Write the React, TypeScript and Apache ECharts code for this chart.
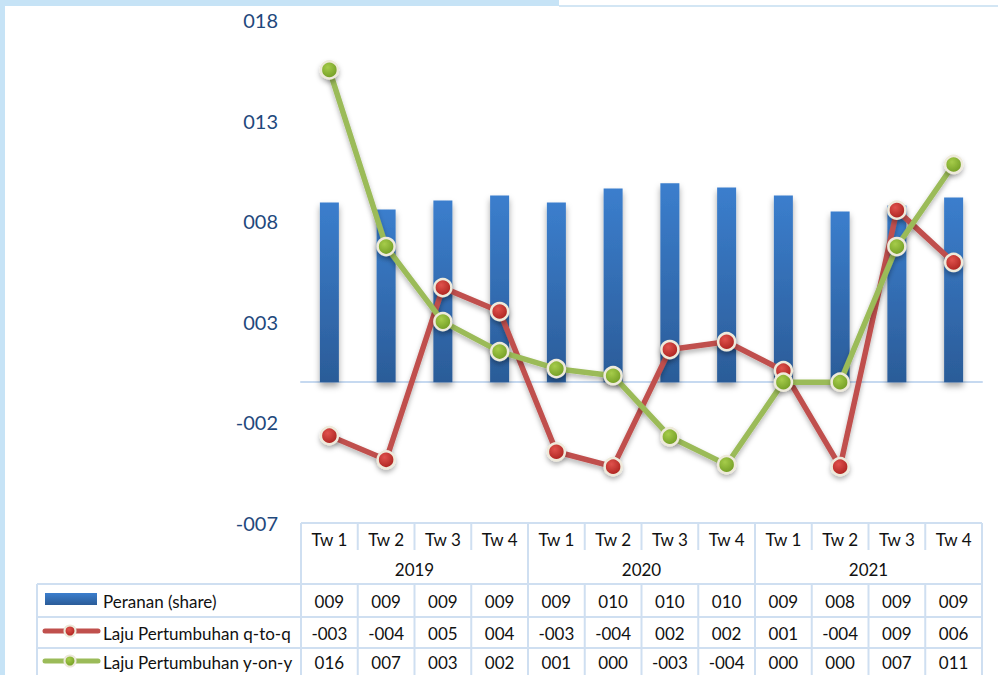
import React, { useEffect, useRef } from "react";
import * as echarts from "echarts";

// ---- data ----
const quarters = ["Tw 1", "Tw 2", "Tw 3", "Tw 4", "Tw 1", "Tw 2", "Tw 3", "Tw 4", "Tw 1", "Tw 2", "Tw 3", "Tw 4"];
const years = ["2019", "2020", "2021"];
const seriesNames = ["Peranan (share)", "Laju Pertumbuhan q-to-q", "Laju Pertumbuhan y-on-y"];
const share = [8.93, 8.58, 9.03, 9.28, 8.93, 9.63, 9.88, 9.68, 9.28, 8.48, 8.78, 9.18];
const qtoq = [-2.66, -3.86, 4.7, 3.51, -3.46, -4.2, 1.62, 2.01, 0.57, -4.2, 8.55, 5.95];
const yoy = [15.52, 6.74, 3.01, 1.52, 0.67, 0.32, -2.71, -4.1, 0, 0, 6.74, 10.82];
const yMin = -7;
const yMax = 18;
const yStep = 5;

const fmt = (v: number) => {
  const r = Math.round(v);
  if (r === 0) return "000";
  const s = String(Math.abs(r)).padStart(3, "0");
  return (r < 0 ? "-" : "") + s;
};

const FONT = "Lato, 'Noto Sans', sans-serif";
const RED = "#c0504d";
const GREEN = "#9bbb59";
const LINEC = "#cfdff1";

export default function App() {
  const ref = useRef<HTMLDivElement>(null);
  useEffect(() => {
    if (!ref.current) return;
    const chart = echarts.init(ref.current, undefined, { renderer: "svg" });

    const W = 998;
    const gLeft = 301;
    const gRight = 982;
    const gTop = 20;
    const gBottom = 523;
    const colW = (gRight - gLeft) / quarters.length;

    const redMarker = new echarts.graphic.RadialGradient(0.4, 0.35, 0.7, [
      { offset: 0, color: "#e0524c" },
      { offset: 1, color: "#a8201c" },
    ]);
    const greenMarker = new echarts.graphic.RadialGradient(0.4, 0.35, 0.7, [
      { offset: 0, color: "#a6cc4a" },
      { offset: 1, color: "#6f9a22" },
    ]);
    const barGrad = new echarts.graphic.LinearGradient(0, 0, 0, 1, [
      { offset: 0, color: "#3b7ecd" },
      { offset: 1, color: "#2b5c98" },
    ]);

    const g: any[] = [];
    // page frame
    g.push({ type: "rect", shape: { x: 0, y: 0, width: 5, height: 675 }, style: { fill: "#c6e3f6" } });
    g.push({ type: "rect", shape: { x: 0, y: 0, width: 559, height: 6 }, style: { fill: "#c6e3f6" } });
    g.push({ type: "rect", shape: { x: 559, y: 5, width: W - 559, height: 2 }, style: { fill: "#d3e6f4" } });

    // table lines
    const hl = (x1: number, x2: number, y: number) =>
      g.push({ type: "line", shape: { x1, y1: y, x2, y2: y }, style: { stroke: LINEC, lineWidth: 2 } });
    const vl = (x: number, y1: number, y2: number) =>
      g.push({ type: "line", shape: { x1: x, y1, x2: x, y2 }, style: { stroke: LINEC, lineWidth: 2 } });

    const rTw = [523, 553];
    const rYear = [553, 584];
    const rows = [
      [584, 617],
      [617, 648],
      [648, 676],
    ];
    const legLeft = 37;

    hl(gLeft, gRight, rTw[0]);
    hl(legLeft, gRight, rows[0][0]);
    hl(legLeft, gRight, rows[1][0]);
    hl(legLeft, gRight, rows[2][0]);
    vl(legLeft, rows[0][0], 676);
    for (let i = 0; i <= quarters.length; i++) {
      const x = gLeft + i * colW;
      if (i % 4 === 0) {
        vl(x, rTw[0], 676);
      } else {
        vl(x, rTw[0], rTw[1] - 3);
        vl(x, rows[0][0], 676);
      }
    }

    const txt = (text: string, x: number, y: number, align: string = "center") =>
      g.push({
        type: "text",
        x,
        y,
        style: { text, fill: "#111111", font: `17px ${FONT}`, textAlign: align, textVerticalAlign: "middle" },
      });

    quarters.forEach((q, i) => txt(q, gLeft + (i + 0.5) * colW, (rTw[0] + rTw[1]) / 2 + 1));
    years.forEach((y, i) => txt(y, gLeft + (i * 4 + 2) * colW, (rYear[0] + rYear[1]) / 2 + 1));
    const tableData = [share, qtoq, yoy];
    tableData.forEach((arr, r) => {
      const cy = r === 2 ? 662 : (rows[r][0] + rows[r][1]) / 2 + 1;
      arr.forEach((v, i) => txt(fmt(v), gLeft + (i + 0.5) * colW, cy));
      txt(seriesNames[r], 103, cy, "left");
    });

    // legend keys
    g.push({ type: "rect", shape: { x: 45, y: 593, width: 52, height: 12 }, style: { fill: barGrad } });
    const lineKey = (cy: number, color: string, fillM: any) => {
      g.push({
        type: "line",
        shape: { x1: 45, y1: cy, x2: 98, y2: cy },
        style: { stroke: color, lineWidth: 5, lineCap: "round" },
      });
      g.push({
        type: "circle",
        shape: { cx: 70, cy, r: 5.5 },
        style: { fill: fillM, stroke: "#ece8d8", lineWidth: 2 },
      });
    };
    lineKey(631, RED, redMarker);
    lineKey(661, GREEN, greenMarker);

    const lineSeries = (name: string, data: number[], color: string, marker: any) => ({
      name,
      type: "line",
      data,
      xAxisIndex: 0,
      symbol: "circle",
      symbolSize: 17,
      z: 3,
      lineStyle: {
        color,
        width: 5.5,
        shadowColor: "rgba(0,0,0,0.3)",
        shadowBlur: 5,
        shadowOffsetY: 3,
      },
      itemStyle: {
        color: marker,
        borderColor: "#eeeadb",
        borderWidth: 2.5,
        shadowColor: "rgba(0,0,0,0.3)",
        shadowBlur: 5,
        shadowOffsetY: 3,
      },
    });

    chart.setOption({
      animation: false,
      backgroundColor: "#ffffff",
      grid: { left: gLeft, right: W - gRight, top: gTop, bottom: 675 - gBottom, containLabel: false },
      xAxis: [
        {
          type: "category",
          data: quarters,
          axisLine: { onZero: true, lineStyle: { color: "#c6d9f0", width: 2 } },
          axisTick: { show: false },
          axisLabel: { show: false },
          splitLine: { show: false },
        },
      ],
      yAxis: {
        type: "value",
        min: yMin,
        max: yMax,
        interval: yStep,
        axisLine: { show: false },
        axisTick: { show: false },
        splitLine: { show: false },
        axisLabel: {
          color: "#1f497d",
          fontSize: 20,
          fontFamily: FONT,
          margin: 23,
          formatter: (v: number) => fmt(v),
        },
      },
      series: [
        {
          name: seriesNames[0],
          type: "bar",
          data: share,
          barWidth: 19,
          z: 2,
          itemStyle: {
            color: barGrad,
            shadowColor: "rgba(0,0,0,0.35)",
            shadowBlur: 6,
            shadowOffsetY: 4,
          },
        },
        lineSeries(seriesNames[1], qtoq, RED, redMarker),
        lineSeries(seriesNames[2], yoy, GREEN, greenMarker),
      ],
      graphic: { elements: g },
    });

    return () => chart.dispose();
  }, []);

  return (
    <div
      ref={ref}
      style={{ position: "fixed", left: 0, top: 0, width: 998, height: 675, background: "#fff" }}
    />
  );
}
